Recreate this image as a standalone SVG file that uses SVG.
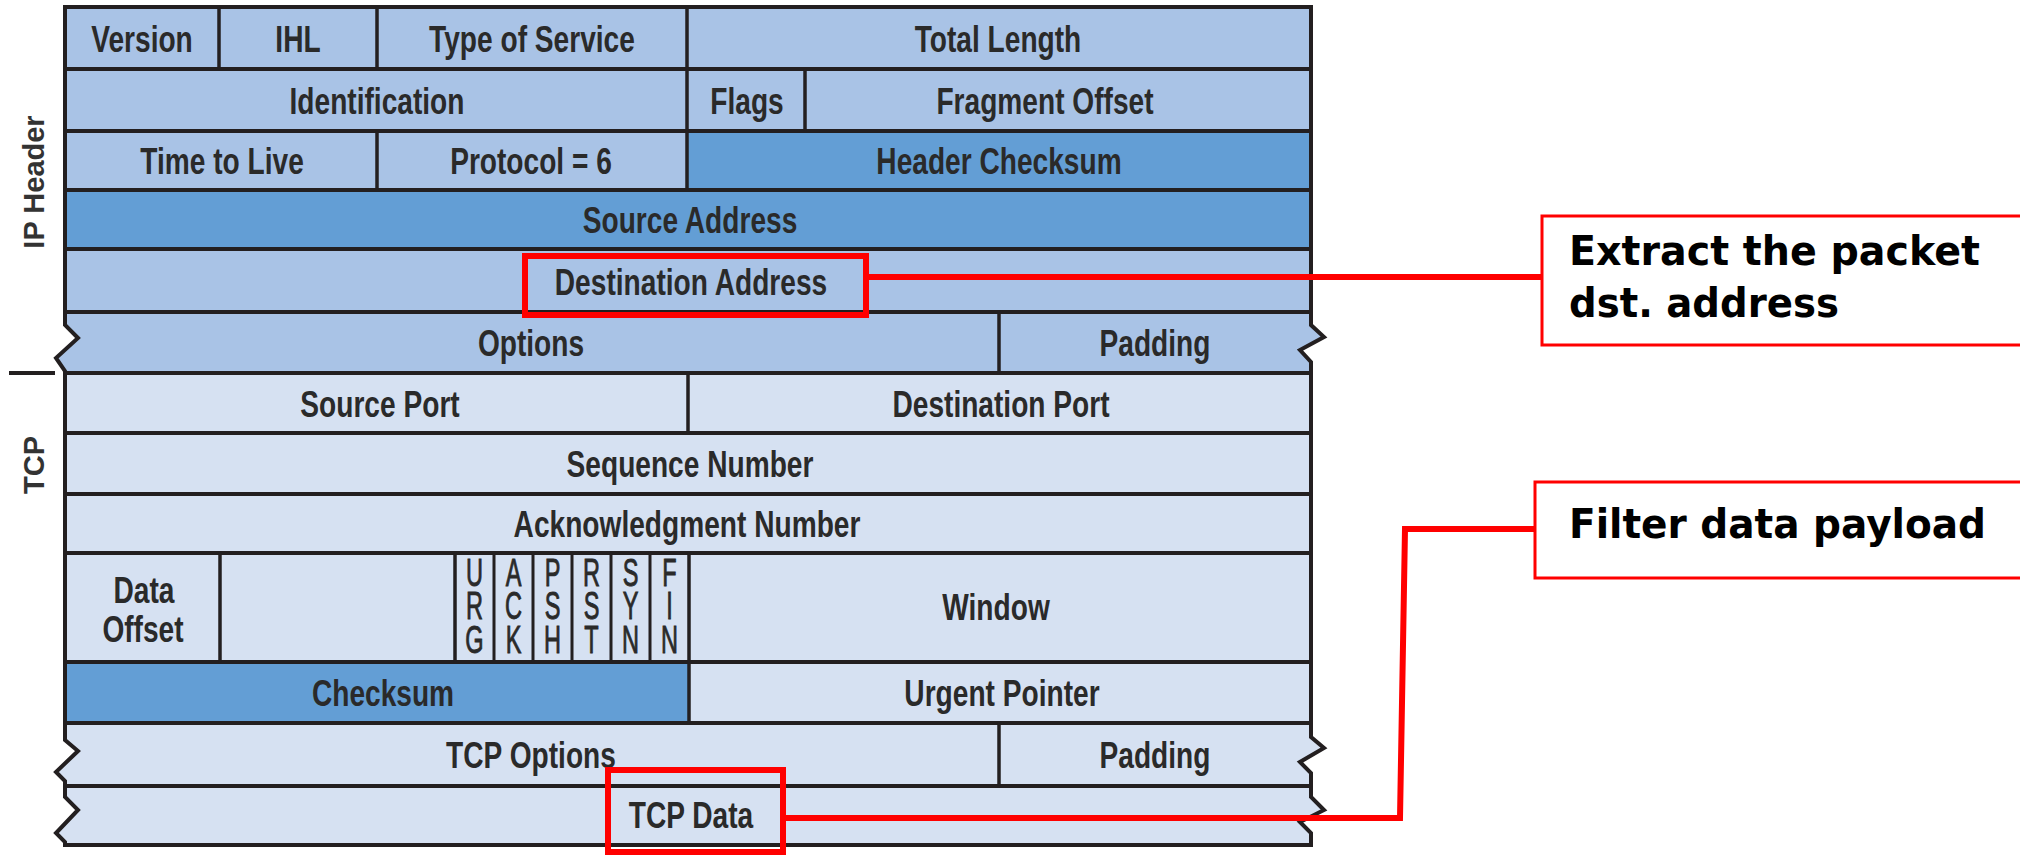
<svg xmlns="http://www.w3.org/2000/svg" width="2020" height="855" viewBox="0 0 2020 855">
<style>
.ip{fill:#a9c3e6}
.dk{fill:#639ed5}
.tc{fill:#d6e1f2}
.t{font-family:"Liberation Sans",Arial,sans-serif;font-weight:bold;font-size:37px;fill:#2a2a2a;text-anchor:middle}
.f{font-family:"Liberation Sans",Arial,sans-serif;font-weight:normal;font-size:38px;fill:#2a2a2a;stroke:#2a2a2a;stroke-width:0.9;writing-mode:vertical-rl;text-orientation:upright;letter-spacing:-9.7px}
.side{font-family:"Liberation Sans",Arial,sans-serif;font-weight:bold;font-size:29px;fill:#333;text-anchor:middle}
.h{stroke:#231f20;stroke-width:4;fill:none}
.v{stroke:#231f20;stroke-width:3.5;fill:none}
.fl{stroke:#231f20;stroke-width:3;fill:none}
.red{stroke:#ff0000;stroke-width:6;fill:none}
.call{stroke:#ff0000;stroke-width:3;fill:#fff}
.ct{font-family:"DejaVu Sans",Verdana,sans-serif;font-weight:bold;font-size:40px;fill:#000}
</style>
<rect width="2020" height="855" fill="#fff"/>

<g id="ip-header">
  <g id="version"><rect class="ip" x="65" y="7" width="154" height="62"/><text class="t" transform="translate(142,51.5) scale(0.76,1)">Version</text></g>
  <g id="ihl"><rect class="ip" x="219" y="7" width="158" height="62"/><text class="t" transform="translate(298,51.5) scale(0.76,1)">IHL</text></g>
  <g id="tos"><rect class="ip" x="377" y="7" width="310" height="62"/><text class="t" transform="translate(532,51.5) scale(0.76,1)">Type of Service</text></g>
  <g id="total-length"><rect class="ip" x="687" y="7" width="624" height="62"/><text class="t" transform="translate(998,51.5) scale(0.76,1)">Total Length</text></g>
  <g id="identification"><rect class="ip" x="65" y="69" width="622" height="62"/><text class="t" transform="translate(377,113.5) scale(0.76,1)">Identification</text></g>
  <g id="flags"><rect class="ip" x="687" y="69" width="118" height="62"/><text class="t" transform="translate(747,113.5) scale(0.76,1)">Flags</text></g>
  <g id="fragment-offset"><rect class="ip" x="805" y="69" width="506" height="62"/><text class="t" transform="translate(1045,113.5) scale(0.76,1)">Fragment Offset</text></g>
  <g id="ttl"><rect class="ip" x="65" y="131" width="312" height="59"/><text class="t" transform="translate(222,174) scale(0.76,1)">Time to Live</text></g>
  <g id="protocol"><rect class="ip" x="377" y="131" width="310" height="59"/><text class="t" transform="translate(531,174) scale(0.76,1)">Protocol = 6</text></g>
  <g id="header-checksum"><rect class="dk" x="687" y="131" width="624" height="59"/><text class="t" transform="translate(999,174) scale(0.76,1)">Header Checksum</text></g>
  <g id="source-address"><rect class="dk" x="65" y="190" width="1246" height="59"/><text class="t" transform="translate(690,233) scale(0.76,1)">Source Address</text></g>
  <g id="destination-address"><rect class="ip" x="65" y="249" width="1246" height="63"/><text class="t" transform="translate(691,294.5) scale(0.76,1)">Destination Address</text></g>
  <g id="options-row">
    <path class="ip" d="M65,312 V325 L78,338 L56,358 L65,371 V373 H1311 V362 L1300,350 L1324,337 L1311,325 V312 Z"/>
    <text class="t" transform="translate(531,356) scale(0.76,1)">Options</text>
    <text class="t" transform="translate(1155,356) scale(0.76,1)">Padding</text>
  </g>
</g>

<g id="tcp">
  <g id="source-port"><rect class="tc" x="65" y="373" width="623" height="60"/><text class="t" transform="translate(380,416.5) scale(0.76,1)">Source Port</text></g>
  <g id="destination-port"><rect class="tc" x="688" y="373" width="623" height="60"/><text class="t" transform="translate(1001,416.5) scale(0.76,1)">Destination Port</text></g>
  <g id="sequence-number"><rect class="tc" x="65" y="433" width="1246" height="61"/><text class="t" transform="translate(690,477) scale(0.76,1)">Sequence Number</text></g>
  <g id="ack-number"><rect class="tc" x="65" y="494" width="1246" height="59"/><text class="t" transform="translate(687,537) scale(0.76,1)">Acknowledgment Number</text></g>
  <g id="data-offset"><rect class="tc" x="65" y="553" width="155" height="109"/>
    <text class="t" transform="translate(144,603) scale(0.76,1)">Data</text>
    <text class="t" transform="translate(143,642) scale(0.76,1)">Offset</text></g>
  <g id="reserved"><rect class="tc" x="220" y="553" width="235" height="109"/></g>
  <g id="tcp-flags"><rect class="tc" x="455" y="553" width="234" height="109"/>
    <text class="f" transform="translate(474.5,551) scale(0.62,1)" x="0" y="0">URG</text>
    <text class="f" transform="translate(513.5,551) scale(0.62,1)" x="0" y="0">ACK</text>
    <text class="f" transform="translate(552.5,551) scale(0.62,1)" x="0" y="0">PSH</text>
    <text class="f" transform="translate(591.5,551) scale(0.62,1)" x="0" y="0">RST</text>
    <text class="f" transform="translate(630.5,551) scale(0.62,1)" x="0" y="0">SYN</text>
    <text class="f" transform="translate(669.5,551) scale(0.62,1)" x="0" y="0">FIN</text>
  </g>
  <g id="window"><rect class="tc" x="689" y="553" width="622" height="109"/><text class="t" transform="translate(996,620) scale(0.76,1)">Window</text></g>
  <g id="checksum"><rect class="dk" x="65" y="662" width="624" height="61"/><text class="t" transform="translate(383,706) scale(0.76,1)">Checksum</text></g>
  <g id="urgent-pointer"><rect class="tc" x="689" y="662" width="622" height="61"/><text class="t" transform="translate(1002,706) scale(0.76,1)">Urgent Pointer</text></g>
  <g id="tcp-options-row">
    <path class="tc" d="M65,723 V740 L78,751 L56,772 L65,781 V786 H1311 V773 L1300,762 L1324,748 L1311,737 V723 Z"/>
    <text class="t" transform="translate(531,768) scale(0.76,1)">TCP Options</text>
    <text class="t" transform="translate(1155,768) scale(0.76,1)">Padding</text>
  </g>
  <g id="tcp-data-row">
    <path class="tc" d="M65,786 V797 L78,810 L56,833 L65,842 V845 H1311 V833 L1300,822 L1324,810 L1311,797 V786 Z"/>
    <text class="t" transform="translate(691,828) scale(0.76,1)">TCP Data</text>
  </g>
</g>

<g id="grid">
  <path class="h" d="M65,7 H1311 M65,69 H1311 M65,131 H1311 M65,190 H1311 M65,249 H1311 M65,312 H1311 M65,373 H1311 M65,433 H1311 M65,494 H1311 M65,553 H1311 M65,662 H1311 M65,723 H1311 M65,786 H1311 M65,845 H1311"/>
  <path class="h" d="M65,5 V325 L78,338 L56,358 L65,371 V740 L78,751 L56,772 L65,781 V797 L78,810 L56,833 L65,842 V847"/>
  <path class="h" d="M1311,5 V325 L1324,337 L1300,350 L1311,362 V737 L1324,748 L1300,762 L1311,773 V797 L1324,810 L1300,822 L1311,833 V847"/>
  <path class="v" d="M219,7 V69 M377,7 V69 M687,7 V69 M687,69 V131 M805,69 V131 M377,131 V190 M687,131 V190 M999,312 V373 M688,373 V433 M220,553 V662 M455,553 V662 M689,553 V662 M689,662 V723 M999,723 V786"/>
  <path class="fl" d="M494,553 V662 M533,553 V662 M572,553 V662 M611,553 V662 M650,553 V662"/>
</g>

<g id="side-labels">
  <text class="side" transform="translate(44,182) rotate(-90)">IP Header</text>
  <text class="side" transform="translate(44,465) rotate(-90)">TCP</text>
  <line x1="9" y1="373" x2="55" y2="373" stroke="#231f20" stroke-width="4"/>
</g>

<g id="highlight-dst"><rect class="red" x="525" y="256" width="341" height="59"/></g>
<g id="highlight-data"><rect class="red" x="608" y="770" width="175" height="82"/></g>

<g id="callout-extract">
  <rect class="call" x="1542" y="216" width="500" height="129"/>
  <text class="ct" x="1569" y="265" textLength="411" lengthAdjust="spacingAndGlyphs">Extract the packet</text>
  <text class="ct" x="1569" y="317" textLength="270" lengthAdjust="spacingAndGlyphs">dst. address</text>
</g>
<g id="callout-filter">
  <rect class="call" x="1535" y="482" width="500" height="96"/>
  <text class="ct" x="1569" y="538" textLength="417" lengthAdjust="spacingAndGlyphs">Filter data payload</text>
</g>

<g id="connectors">
  <line class="red" x1="866" y1="277" x2="1542" y2="277"/>
  <polyline class="red" points="783,818 1400,818 1405,529 1535,529"/>
</g>
</svg>
